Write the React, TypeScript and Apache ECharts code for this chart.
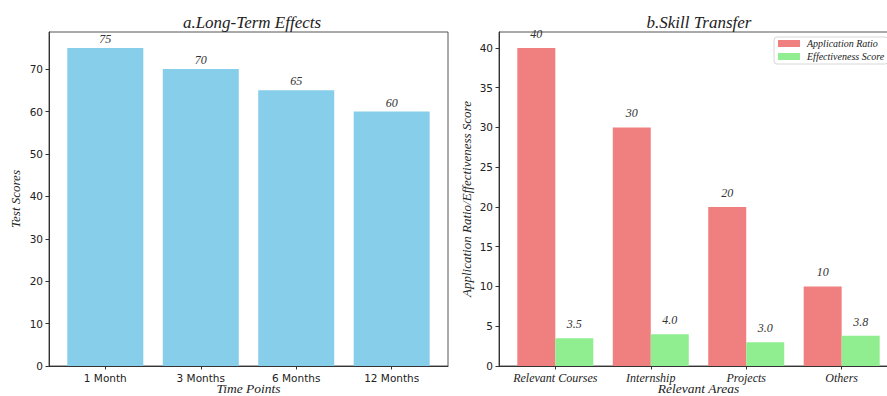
import React, { useEffect, useRef } from "react";
import * as echarts from "echarts";

const timePoints = ["1 Month", "3 Months", "6 Months", "12 Months"];
const testScores = [75, 70, 65, 60];

const areas = ["Relevant Courses", "Internship", "Projects", "Others"];
const applicationRatio = [40, 30, 20, 10];
const effectivenessScore = [3.5, 4.0, 3.0, 3.8];

const SERIF = "Liberation Serif";
const SANS = "DejaVu Sans";
const AXIS_COLOR = "#333";

export default function App() {
  const ref = useRef<HTMLDivElement>(null);
  useEffect(() => {
    const chart = echarts.init(ref.current!, null, { renderer: "svg" });
    const idx = [0, 1, 2, 3];
    const catX = (cats: string[], italicSerif: boolean, gridIndex: number) => ({
      type: "value",
      gridIndex,
      min: -0.59,
      max: 3.59,
      name: gridIndex === 0 ? "Time Points" : "Relevant Areas",
      nameLocation: "middle",
      nameGap: 16,
      nameMoveOverlap: false,
      nameTextStyle: { fontFamily: SERIF, fontStyle: "italic", fontSize: 13.5, lineHeight: 13.5, color: "#222", verticalAlign: "top" },
      axisLine: { show: true, onZero: false, lineStyle: { color: AXIS_COLOR, width: 1 } },
      axisTick: { show: true, length: 3.5, customValues: idx, lineStyle: { color: AXIS_COLOR } },
      axisLabel: {
        customValues: idx,
        formatter: (v: number) => cats[Math.round(v)],
        margin: 6,
        fontSize: italicSerif ? 12 : 10.5,
        fontFamily: italicSerif ? SERIF : SANS,
        fontStyle: italicSerif ? "italic" : "normal",
        color: "#222",
      },
      splitLine: { show: false },
    });
    const valY = (gridIndex: number, max: number, interval: number, name: string, nameGap: number) => ({
      type: "value",
      gridIndex,
      min: 0,
      max,
      interval,
      name,
      nameLocation: "middle",
      nameGap,
      nameTextStyle: { fontFamily: SERIF, fontStyle: "italic", fontSize: 13, color: "#222" },
      axisLine: { show: true, onZero: false, lineStyle: { color: AXIS_COLOR, width: 1 } },
      axisTick: { show: true, length: 3.5, lineStyle: { color: AXIS_COLOR } },
      axisLabel: {
        margin: 6,
        fontSize: 10.5,
        fontFamily: SANS,
        color: "#222",
        showMaxLabel: false,
        formatter: (v: number) => (v > max - 0.001 && max % interval !== 0 ? "" : String(v)),
      },
      splitLine: { show: false },
    });
    const labelStyle = (fmt: (p: any) => string, distance: number) => ({
      show: true,
      position: "top",
      distance,
      fontFamily: SERIF,
      fontStyle: "italic",
      fontSize: 12,
      color: "#333",
      formatter: fmt,
    });

    chart.setOption({
      animation: false,
      backgroundColor: "#fff",
      grid: [
        { left: 49, top: 32, width: 399, height: 334, outerBoundsMode: "none", containLabel: false, show: true, borderColor: "#555", borderWidth: 1, backgroundColor: "transparent" },
        { left: 499, top: 32, width: 399, height: 334, outerBoundsMode: "none", containLabel: false, show: true, borderColor: "#555", borderWidth: 1, backgroundColor: "transparent" },
      ],
      graphic: [
        {
          type: "text",
          x: 252,
          y: 22,
          style: { text: "a.Long-Term Effects", font: `italic 17px "${SERIF}"`, fill: "#222", textAlign: "center", textVerticalAlign: "middle" },
        },
        {
          type: "text",
          x: 699,
          y: 22,
          style: { text: "b.Skill Transfer", font: `italic 17px "${SERIF}"`, fill: "#222", textAlign: "center", textVerticalAlign: "middle" },
        },
      ],
      legend: {
        data: ["Application Ratio", "Effectiveness Score"],
        orient: "vertical",
        left: 774,
        top: 37,
        padding: [1, 4, 2, 4],
        itemGap: 2,
        itemWidth: 22,
        itemHeight: 7,
        icon: "rect",
        borderColor: "#d8d8d8",
        borderWidth: 1,
        borderRadius: 3,
        backgroundColor: "rgba(255,255,255,0.85)",
        textStyle: { fontFamily: SERIF, fontStyle: "italic", fontSize: 10, lineHeight: 11, color: "#222", padding: [0, 0, 0, 2] },
      },
      xAxis: [catX(timePoints, false, 0), catX(areas, true, 1)],
      yAxis: [valY(0, 78.75, 10, "Test Scores", 27), valY(1, 42, 5, "Application Ratio/Effectiveness Score", 26)],
      series: [
        {
          type: "bar",
          name: "Test Scores",
          xAxisIndex: 0,
          yAxisIndex: 0,
          barWidth: 76,
          data: testScores.map((v, i) => [i, v]),
          itemStyle: { color: "#87CEEB" },
          label: labelStyle((p: any) => String(p.value[1]), 3),
        },
        {
          type: "bar",
          name: "Application Ratio",
          xAxisIndex: 1,
          yAxisIndex: 1,
          barWidth: 38,
          barGap: "0%",
          data: applicationRatio.map((v, i) => [i, v]),
          itemStyle: { color: "#F08080" },
          label: labelStyle((p: any) => String(p.value[1]), 8),
        },
        {
          type: "bar",
          name: "Effectiveness Score",
          xAxisIndex: 1,
          yAxisIndex: 1,
          barWidth: 38,
          barGap: "0%",
          data: effectivenessScore.map((v, i) => [i, v]),
          itemStyle: { color: "#90EE90" },
          label: labelStyle((p: any) => Number(p.value[1]).toFixed(1), 8),
        },
      ],
    });
    return () => chart.dispose();
  }, []);
  return (
    <div
      ref={ref}
      style={{ position: "fixed", left: 0, top: 0, width: 887, height: 396, background: "#fff" }}
    />
  );
}
